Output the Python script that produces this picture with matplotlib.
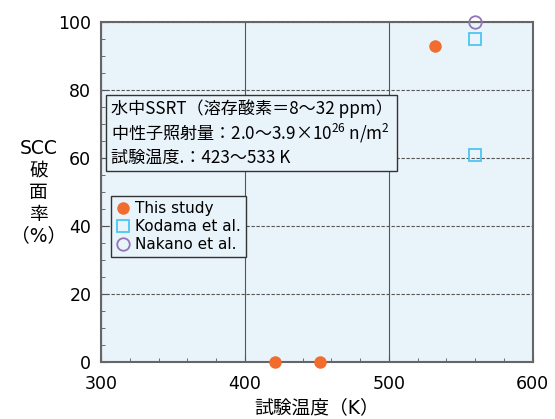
import matplotlib.pyplot as plt
from matplotlib.ticker import MultipleLocator

plt.rcParams['font.family'] = ['DejaVu Sans', 'Noto Sans CJK JP']
plt.rcParams['mathtext.fontset'] = 'custom'
plt.rcParams['mathtext.rm'] = 'Noto Sans CJK JP'
plt.rcParams['mathtext.it'] = 'Noto Sans CJK JP'
plt.rcParams['mathtext.bf'] = 'Noto Sans CJK JP'

# data
this_x = [421, 452, 532]
this_y = [0, 0, 93]
kodama_x = [560, 560]
kodama_y = [95, 61]
nakano_x = [560]
nakano_y = [100]

fig = plt.figure(figsize=(5.55, 4.19), dpi=100)
ax = fig.add_axes([0.182, 0.136, 0.778, 0.811])
ax.set_facecolor('#e9f3fa')

ax.plot(this_x, this_y, 'o', ms=9, color='#f26d2d', mec='none', label='This study', clip_on=False, zorder=5)
ax.plot(kodama_x, kodama_y, 's', ms=9, mfc='none', mec='#4cc6f2', mew=1.3, label='Kodama et al.', clip_on=False, zorder=5)
ax.plot(nakano_x, nakano_y, 'o', ms=9, mfc='none', mec='#9374b8', mew=1.3, label='Nakano et al.', clip_on=False, zorder=5)

ax.set_xlim(300, 600)
ax.set_ylim(0, 100)
ax.xaxis.set_major_locator(MultipleLocator(100))
ax.xaxis.set_minor_locator(MultipleLocator(20))
ax.yaxis.set_major_locator(MultipleLocator(20))
ax.yaxis.set_minor_locator(MultipleLocator(5))
ax.tick_params(which='both', direction='in', labelsize=12.5, color='#555555')
ax.tick_params(which='major', length=5)
ax.tick_params(which='minor', length=3)
ax.tick_params(axis='x', pad=9)
ax.tick_params(axis='y', pad=7)
ax.xaxis.grid(True, color='#555555', lw=0.8)
ax.yaxis.grid(True, color='#555555', lw=0.8, ls=(0, (3, 1.5)))
for s in ax.spines.values():
    s.set_color('#666666')
    s.set_linewidth(1.5)

ax.set_xlabel('試験温度（K）', fontsize=13.5, labelpad=4)
ax.text(-0.145, 0.5, 'SCC\n破\n面\n率\n（%）', transform=ax.transAxes, ha='center', va='center',
        fontsize=13.5, linespacing=1.2)

ax.text(0.022, 0.774,
        '水中SSRT（溶存酸素＝8～32 ppm）\n中性子照射量：2.0～3.9×10$^{26}$ n/m$^2$\n試験温度.：423～533 K',
        transform=ax.transAxes, fontsize=12.3, va='top', ha='left', linespacing=1.25,
        family=['Noto Sans CJK JP'],
        bbox=dict(boxstyle='square,pad=0.25', fc='#e9f3fa', ec='#333333', lw=1.0))

leg = ax.legend(loc='upper left', bbox_to_anchor=(0.005, 0.51), fontsize=11, frameon=True,
                fancybox=False, edgecolor='#333333', facecolor='#e9f3fa', framealpha=1,
                handletextpad=0.3, borderpad=0.3, labelspacing=0.2, handlelength=1.0)
leg.get_frame().set_linewidth(1.0)

fig.savefig('out.png', dpi=100)
